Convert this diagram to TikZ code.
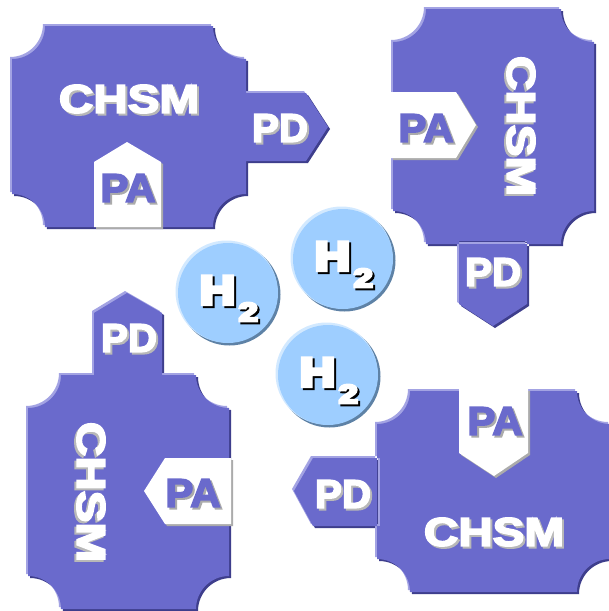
\documentclass[tikz,border=0pt]{standalone}
\usepackage{fontspec}
\setmainfont{Liberation Sans}
\newfontfamily\labelfont[FakeBold=4]{Liberation Sans Bold}
\newfontfamily\heavyfont[FakeBold=10]{Liberation Sans Bold}

\definecolor{chsmfill}{HTML}{6A6ACC}
\definecolor{chsmlight}{HTML}{A3A3E3}
\definecolor{chsmdark}{HTML}{3E3E8C}
\definecolor{pashadow}{HTML}{ABABAB}
\definecolor{txtshadow}{HTML}{B8B8B8}
\definecolor{hfill}{HTML}{9ECEFF}
\definecolor{hlight}{HTML}{D2E9FF}
\definecolor{hdark}{HTML}{5E82A6}

\tikzset{
  lbl/.style={inner sep=0pt, font=\fontsize{40}{40}\selectfont\labelfont},
  whitelbl/.style={lbl, text=white},
  purplelbl/.style={lbl, text=chsmfill},
  hlbl/.style={inner sep=0pt, font=\fontsize{40}{40}\selectfont\heavyfont, text=white, anchor=base west},
}

% body of a module: rectangle with concave quarter-circle corners
\newcommand\cornercut{33}
\newcommand\cornerrad{33pt}
\newcommand\bodypath[4]{({#1+\cornercut},#2) -- ({#3-\cornercut},#2)
  arc[start angle=180,end angle=270,radius=\cornerrad] -- (#3,{#4-\cornercut})
  arc[start angle=90,end angle=180,radius=\cornerrad] -- ({#1+\cornercut},#4)
  arc[start angle=0,end angle=90,radius=\cornerrad] -- (#1,{#2+\cornercut})
  arc[start angle=-90,end angle=0,radius=\cornerrad] -- cycle}

% bevelled purple shape: dark lower-right edge, light upper-left edge
\newcommand\bevelfill[1]{%
  \fill[chsmdark, shift={(2,2)}] #1;
  \fill[chsmlight, shift={(-2,-2)}] #1;
  \fill[chsmfill] #1;}

% white tab with a grey drop shadow
\newcommand\whitetab[1]{%
  \fill[pashadow, shift={(2,2)}] #1;
  \fill[white] #1;}

% text with a drop shadow: name, x, y, style, text, shadow colour, dx, dy
\newcommand\shadowlabel[8]{%
  \node[#4, text=#6] (#1-shadow) at ({#2+(#7)},{#3+(#8)}) {#5};
  \node[#4] (#1) at (#2,#3) {#5};}

\newcommand\chsmword{\scalebox{1.19}[1]{CHSM}}
\newcommand\pdword{\scalebox{1.01}[1]{PD}}
\newcommand\paword{\scalebox{1.05}[1]{PA}}
\newcommand\htwo{\scalebox{1.2}[1]{H}\hspace{4pt}\raisebox{-17pt}{\fontsize{26}{26}\selectfont\scalebox{1.3}[1]{2}}}

\newcommand\moduleTL{\bodypath{12}{26}{246}{227} (243,93) -- (306,93) -- (328,127) -- (306,161) -- (243,161) -- cycle}
\newcommand\moduleTR{\bodypath{393}{9}{594}{244} (459,241) -- (459,304) -- (493,326) -- (527,304) -- (527,241) -- cycle}
\newcommand\moduleBL{\bodypath{28}{375}{229}{609} (94,378) -- (94,313) -- (127,293) -- (162,313) -- (162,378) -- cycle}
\newcommand\moduleBR{\bodypath{377}{391}{610}{592} (380,458) -- (313,458) -- (294,491) -- (313,526) -- (380,526) -- cycle}

\newcommand\tabTL{(94,227) -- (94,162) -- (127,142) -- (161,162) -- (161,227) -- cycle}
\newcommand\tabTR{(391,92) -- (456,92) -- (476,125) -- (456,158) -- (391,158) -- cycle}
\newcommand\tabBL{(231,458) -- (165,458) -- (144,491) -- (165,524) -- (231,524) -- cycle}
\newcommand\tabBR{(459,389) -- (459,453) -- (494,476) -- (528,453) -- (528,389) -- cycle}

\begin{document}
\begin{tikzpicture}[x=1pt, y=-1pt]
  \useasboundingbox (0,0) rectangle (609,611);
  \fill[white] (0,0) rectangle (609,611);

  % the four modules
  \bevelfill{\moduleTL}
  \bevelfill{\moduleTR}
  \bevelfill{\moduleBL}
  \bevelfill{\moduleBR}

  \whitetab{\tabTL}
  \whitetab{\tabTR}
  \whitetab{\tabBL}
  \whitetab{\tabBR}

  % module labels
  \shadowlabel{chsmTL}{129}{99}{whitelbl}{\chsmword}{txtshadow}{2}{2}
  \shadowlabel{pdTL}{280}{128}{whitelbl}{\pdword}{txtshadow}{2}{2}
  \shadowlabel{paTL}{128}{188}{purplelbl}{\paword}{pashadow}{2}{2}

  \shadowlabel{chsmTR}{521}{126}{whitelbl, rotate=-90}{\chsmword}{txtshadow}{-2}{2}
  \shadowlabel{paTR}{426}{128}{purplelbl}{\paword}{pashadow}{2}{2}
  \shadowlabel{pdTR}{493}{272}{whitelbl}{\pdword}{txtshadow}{2}{2}

  \shadowlabel{chsmBL}{91}{492}{whitelbl, rotate=-90}{\chsmword}{txtshadow}{-2}{2}
  \shadowlabel{pdBL}{129}{338}{whitelbl}{\pdword}{txtshadow}{2}{2}
  \shadowlabel{paBL}{193}{493}{purplelbl}{\paword}{pashadow}{2}{2}

  \shadowlabel{chsmBR}{494}{532}{whitelbl}{\chsmword}{txtshadow}{2}{2}
  \shadowlabel{paBR}{495}{421}{purplelbl}{\paword}{pashadow}{2}{2}
  \shadowlabel{pdBR}{343}{494}{whitelbl}{\pdword}{txtshadow}{2}{2}

  % hydrogen molecules
  \foreach \cx/\cy/\nm in {228/293/hA, 343/259/hB, 328/375/hC}{
    \fill[hdark] ({\cx+1.5},{\cy+1.5}) circle[radius=51pt];
    \fill[hlight] ({\cx-1.5},{\cy-1.5}) circle[radius=51pt];
    \fill[hfill] (\cx,\cy) circle[radius=50pt];
    \shadowlabel{\nm}{\cx-28}{\cy+11}{hlbl}{\htwo}{black}{2}{2}
  }
\end{tikzpicture}
\end{document}
